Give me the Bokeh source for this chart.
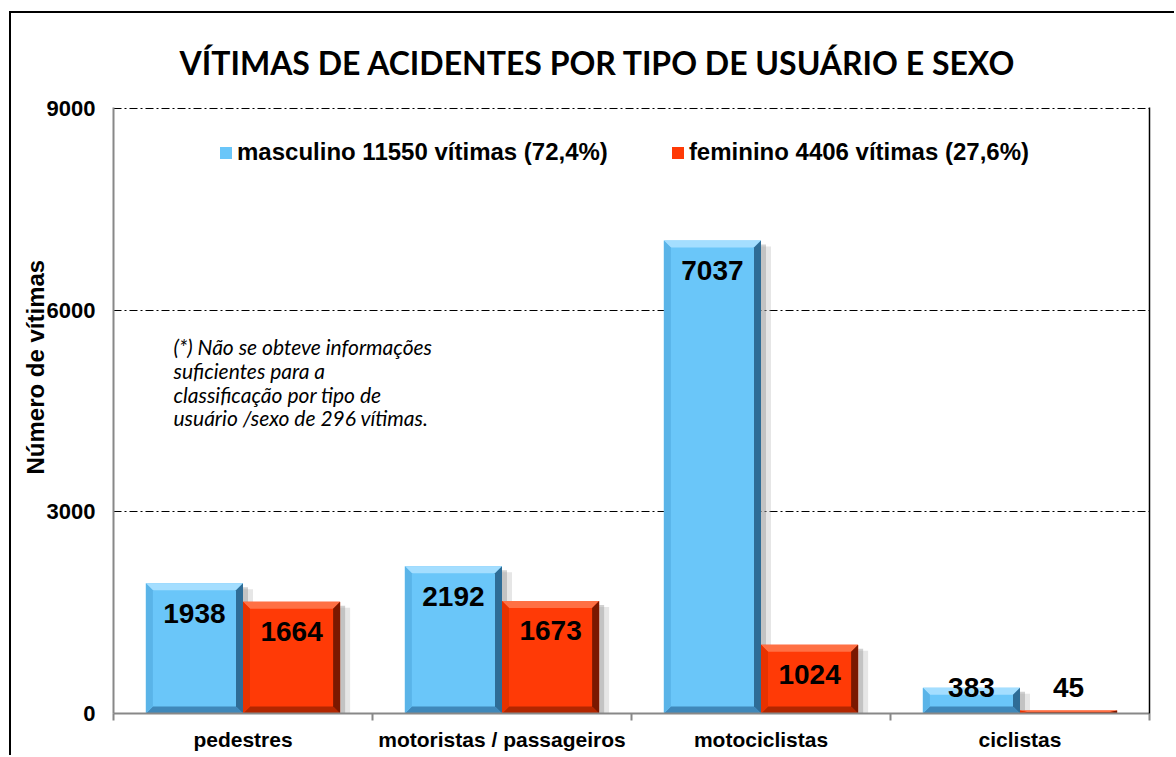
from bokeh.plotting import figure
from bokeh.models import (Range1d, LinearAxis, FixedTicker, Legend, LegendItem, Label,
                          ColumnDataSource, Grid)
from bokeh.core.properties import value
from bokeh.embed import file_html
from bokeh.resources import INLINE

# ---------------- data ----------------
categories = ["pedestres", "motoristas / passageiros", "motociclistas", "ciclistas"]
masculino = [1938, 2192, 7037, 383]
feminino = [1664, 1673, 1024, 45]
legend_labels = ["masculino 11550 vítimas (72,4%)", "feminino 4406 vítimas (27,6%)"]
y_ticks = [0, 3000, 6000, 9000]
y_title = "Número de vítimas"
title_text = "VÍTIMAS DE ACIDENTES POR TIPO DE USUÁRIO E SEXO"
note_lines = ["(*) Não se obteve informações",
              "suficientes para  a",
              "classificação  por tipo de",
              "usuário /sexo de 296 vítimas."]

# ---------------- layout constants ----------------
W, H = 1165, 744
BL, BR, BT, BB = 102, 27, 94, 44
FW, FH = W - BL - BR, H - BT - BB
NCAT = len(categories)
YMAX = 9000
px_x = NCAT / FW
px_y = YMAX / FH

p = figure(width=W, height=H, output_backend="svg", toolbar_location=None,
           x_range=Range1d(0, NCAT), y_range=Range1d(0, YMAX + 1.0 * px_y),
           min_border_left=BL, min_border_right=BR, min_border_top=BT, min_border_bottom=BB,
           x_axis_type=None, y_axis_type=None)
p.outline_line_color = None
p.background_fill_color = "white"
p.border_fill_color = "white"
p.styles = {"border-left": "2px solid black", "border-top": "2px solid black",
            "margin-left": "9px", "margin-top": "11px"}

FONT = "Liberation Sans"

# title
p.title.text = title_text
p.title.align = "left"
p.title.offset = 66
p.title.standoff = 52
p.title.text_font = "Lato"
p.title.text_font_style = "bold"
p.title.text_font_size = "32px"
p.title.text_color = "black"

# axes
yaxis = LinearAxis(ticker=FixedTicker(ticks=y_ticks))
yaxis.axis_line_color = "#888888"
yaxis.axis_line_width = 2
yaxis.major_tick_line_color = None
yaxis.minor_tick_line_color = None
yaxis.major_tick_out = 0
yaxis.major_label_standoff = 18
yaxis.major_label_text_font = FONT
yaxis.major_label_text_font_style = "bold"
yaxis.major_label_text_font_size = "22px"
yaxis.major_label_text_color = "black"
yaxis.axis_label = "\u00a0" * 13 + y_title
yaxis.axis_label_text_font = FONT
yaxis.axis_label_text_font_style = "bold"
yaxis.axis_label_text_font_size = "24px"
yaxis.axis_label_text_color = "black"
yaxis.axis_label_standoff = -5
p.add_layout(yaxis, "left")

centers = [i + 0.5 for i in range(NCAT)]
xaxis = LinearAxis(ticker=FixedTicker(ticks=centers, minor_ticks=list(range(NCAT + 1))))
xaxis.major_label_overrides = {c: name for c, name in zip(centers, categories)}
xaxis.axis_line_color = "#888888"
xaxis.axis_line_width = 2
xaxis.major_tick_line_color = None
xaxis.minor_tick_line_color = "#888888"
xaxis.minor_tick_line_width = 2
xaxis.minor_tick_out = 7
xaxis.minor_tick_in = 0
xaxis.major_label_standoff = 7
xaxis.major_label_text_font = FONT
xaxis.major_label_text_font_style = "bold"
xaxis.major_label_text_font_size = "21px"
xaxis.major_label_text_color = "black"
p.add_layout(xaxis, "below")

raxis = LinearAxis(ticker=FixedTicker(ticks=[]))
raxis.axis_line_color = "black"
raxis.axis_line_width = 1.5
raxis.major_label_text_font_size = "0px"
raxis.major_tick_line_color = None
raxis.minor_tick_line_color = None
p.add_layout(raxis, "right")

grid = Grid(dimension=1, ticker=FixedTicker(ticks=y_ticks[1:]))
grid.grid_line_color = "black"
grid.grid_line_dash = "8 3 2 3"
grid.grid_line_width = 1
p.add_layout(grid)

# ---------------- bars ----------------
BW = 0.375
series = [
    (masculino, -BW, dict(face="#6AC6F9", top="#A4DEFF", left="#5AB4E8", right="#2E6C96", bottom="#3F88BA")),
    (feminino, 0.0, dict(face="#FF3A06", top="#FF7044", left="#E83200", right="#7A1800", bottom="#B22600")),
]
main_renderers = []
bev = 7
for vals, off, col in series:
    L = [c + off for c in centers]
    R = [l + BW for l in L]
    T = list(vals)
    # shadow
    p.quad(left=R, right=[r + 5 * px_x for r in R], bottom=[0] * NCAT,
           top=[max(t - 4 * px_y, 0) for t in T], fill_color="#7a7a7a", fill_alpha=0.35, line_color=None)
    p.quad(left=R, right=[r + 10 * px_x for r in R], bottom=[0] * NCAT,
           top=[max(t - 6 * px_y, 0) for t in T], fill_color="#9a9a9a", fill_alpha=0.25, line_color=None)
    r = p.quad(left=L, right=R, bottom=[0] * NCAT, top=T, fill_color=col["face"], line_color=None)
    main_renderers.append(r)
    bx = bev * px_x
    tops_x, tops_y, bot_x, bot_y, lef_x, lef_y, rig_x, rig_y = [], [], [], [], [], [], [], []
    for l, rr, t in zip(L, R, T):
        by = min(bev * px_y, t / 2)
        tops_x.append([l, rr, rr - bx, l + bx]); tops_y.append([t, t, t - by, t - by])
        bot_x.append([l, rr, rr - bx, l + bx]); bot_y.append([0, 0, by, by])
        lef_x.append([l, l, l + bx, l + bx]); lef_y.append([0, t, t - by, by])
        rig_x.append([rr, rr, rr - bx, rr - bx]); rig_y.append([0, t, t - by, by])
    p.patches(tops_x, tops_y, fill_color=col["top"], line_color=None)
    p.patches(bot_x, bot_y, fill_color=col["bottom"], line_color=None)
    p.patches(lef_x, lef_y, fill_color=col["left"], line_color=None)
    p.patches(rig_x, rig_y, fill_color=col["right"], line_color=None)

    # value labels
    ly = [max(v - 30 * px_y, 26 * px_y) for v in vals]
    src = ColumnDataSource(dict(x=[l + BW / 2 for l in L], y=ly, t=[str(v) for v in vals]))
    p.text(x="x", y="y", text="t", source=src, text_align="center", text_baseline="middle",
           text_font=value(FONT), text_font_style="bold", text_font_size="28px", text_color="black")

# ---------------- legend ----------------
legend = Legend(items=[LegendItem(label=legend_labels[0], renderers=[main_renderers[0]]),
                       LegendItem(label=legend_labels[1], renderers=[main_renderers[1]])],
                orientation="horizontal", location=(105, 547))
legend.glyph_width = 15
legend.glyph_height = 15
legend.label_standoff = 4
legend.spacing = 62
legend.padding = 0
legend.margin = 0
legend.border_line_color = None
legend.background_fill_alpha = 0
legend.label_text_font = FONT
legend.label_text_font_style = "bold"
legend.label_text_font_size = "24px"
legend.label_text_color = "black"
legend.label_height = 20
p.add_layout(legend, "center")

# ---------------- note ----------------
for i, line in enumerate(note_lines):
    p.add_layout(Label(x=(173 - 113) * px_x, y=(713 - 345 - 24 * i) * px_y, text=line,
                       text_align="left", text_baseline="middle", text_font="Lato",
                       text_font_style="italic", text_font_size="21px", text_color="black"))

open("out.html", "w").write(file_html(p, INLINE))
